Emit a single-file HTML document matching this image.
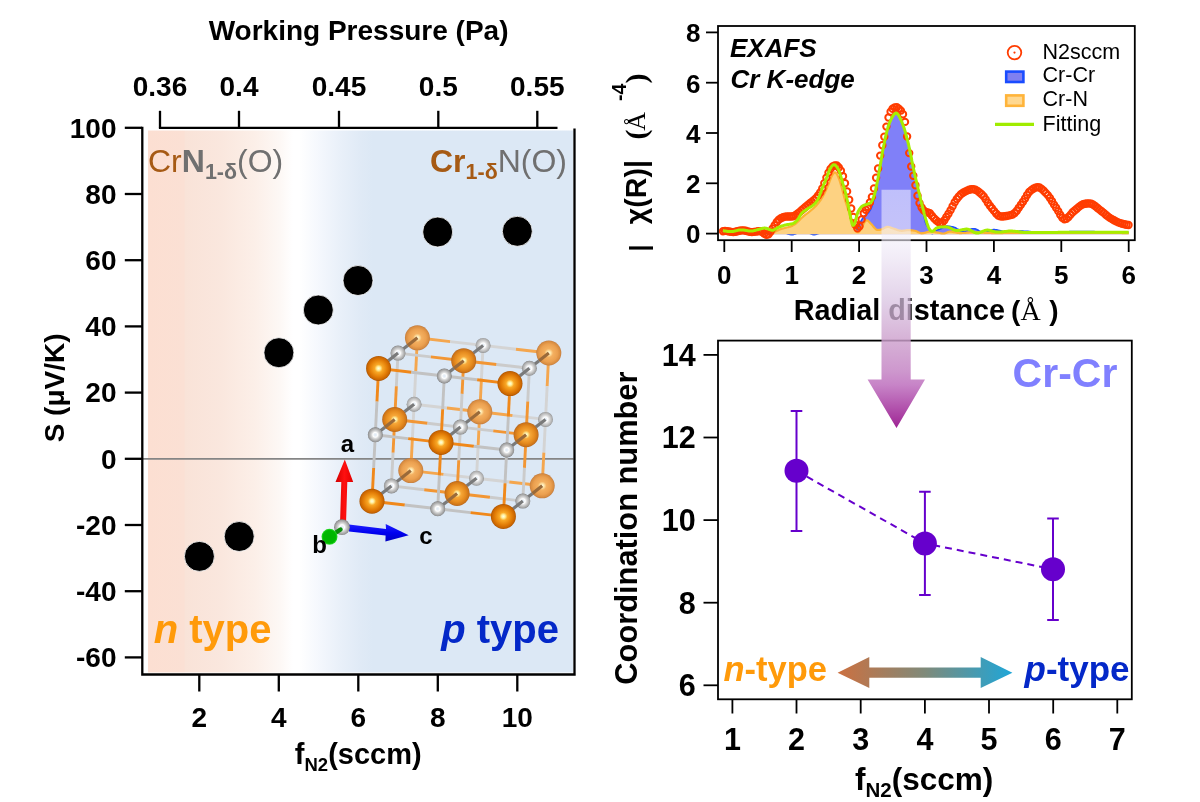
<!DOCTYPE html>
<html><head><meta charset="utf-8"><title>CrN figure</title>
<style>html,body{margin:0;padding:0;background:#fff;} svg{display:block;}</style></head>
<body><svg width="1200" height="802" viewBox="0 0 1200 802">
<defs>
<linearGradient id="bgL" gradientUnits="userSpaceOnUse" x1="148" y1="0" x2="573" y2="0"><stop offset="0.0000" stop-color="#fcdfd2"/><stop offset="0.0847" stop-color="#fbe0d4"/><stop offset="0.0882" stop-color="#f9e3d8"/><stop offset="0.1741" stop-color="#fae7de"/><stop offset="0.2518" stop-color="#fcefe8"/><stop offset="0.3106" stop-color="#fdf8f5"/><stop offset="0.3412" stop-color="#ffffff"/><stop offset="0.3553" stop-color="#ffffff"/><stop offset="0.4000" stop-color="#f5f8fd"/><stop offset="0.4518" stop-color="#e9f0f9"/><stop offset="0.4988" stop-color="#e0eaf6"/><stop offset="0.5294" stop-color="#dce8f5"/><stop offset="1.0000" stop-color="#dce8f5"/></linearGradient>
<radialGradient id="cr0" cx="0.5" cy="0.5" r="0.5"><stop offset="0" stop-color="#fffde6"/><stop offset="0.14" stop-color="#fff2a0"/><stop offset="0.32" stop-color="#f9a826"/><stop offset="0.7" stop-color="#e27c06"/><stop offset="0.92" stop-color="#c86400"/><stop offset="1" stop-color="#a85200"/></radialGradient>
<radialGradient id="cr1" cx="0.5" cy="0.5" r="0.5"><stop offset="0" stop-color="#fffde6"/><stop offset="0.14" stop-color="#fff0a0"/><stop offset="0.32" stop-color="#f7a838"/><stop offset="0.7" stop-color="#e58a1e"/><stop offset="0.92" stop-color="#cd7418"/><stop offset="1" stop-color="#b06420"/></radialGradient>
<radialGradient id="cr2" cx="0.5" cy="0.5" r="0.5"><stop offset="0" stop-color="#fffde6"/><stop offset="0.14" stop-color="#ffeab0"/><stop offset="0.34" stop-color="#f4b060"/><stop offset="0.7" stop-color="#eba050"/><stop offset="0.92" stop-color="#d88c40"/><stop offset="1" stop-color="#bf7a40"/></radialGradient>
<radialGradient id="n0" cx="0.5" cy="0.5" r="0.5"><stop offset="0" stop-color="#dfeaf6"/><stop offset="0.2" stop-color="#eef3f8"/><stop offset="0.32" stop-color="#ffffff"/><stop offset="0.48" stop-color="#dcdcdc"/><stop offset="0.75" stop-color="#b2b2b2"/><stop offset="0.9" stop-color="#9c9c9c"/><stop offset="1" stop-color="#767676"/></radialGradient>
<radialGradient id="n1" cx="0.5" cy="0.5" r="0.5"><stop offset="0" stop-color="#dfeaf6"/><stop offset="0.2" stop-color="#eef3f8"/><stop offset="0.32" stop-color="#ffffff"/><stop offset="0.48" stop-color="#dfdfdf"/><stop offset="0.75" stop-color="#b8b8b8"/><stop offset="0.9" stop-color="#a4a4a4"/><stop offset="1" stop-color="#808080"/></radialGradient>
<radialGradient id="n2" cx="0.5" cy="0.5" r="0.5"><stop offset="0" stop-color="#dfeaf6"/><stop offset="0.2" stop-color="#eef3f8"/><stop offset="0.32" stop-color="#ffffff"/><stop offset="0.48" stop-color="#e2e2e2"/><stop offset="0.75" stop-color="#c0c0c0"/><stop offset="0.9" stop-color="#adadad"/><stop offset="1" stop-color="#8c8c8c"/></radialGradient>
<radialGradient id="gball" cx="0.5" cy="0.5" r="0.5"><stop offset="0" stop-color="#00b400"/><stop offset="0.8" stop-color="#00b800"/><stop offset="1" stop-color="#30e030"/></radialGradient>
<linearGradient id="redg" x1="0" y1="0" x2="1" y2="0"><stop offset="0" stop-color="#d00000"/><stop offset="0.5" stop-color="#ff1010"/><stop offset="1" stop-color="#e00000"/></linearGradient>
<linearGradient id="blueg" x1="0" y1="0" x2="0" y2="1"><stop offset="0" stop-color="#2020ff"/><stop offset="0.5" stop-color="#0000f0"/><stop offset="1" stop-color="#0000c0"/></linearGradient>
<linearGradient id="dblg" gradientUnits="userSpaceOnUse" x1="837.6" y1="0" x2="1012.4" y2="0"><stop offset="0" stop-color="#cc7040"/><stop offset="0.5" stop-color="#7f8a7a"/><stop offset="1" stop-color="#1ea6d8"/></linearGradient>
<linearGradient id="bigarrow" gradientUnits="userSpaceOnUse" x1="0" y1="189.7" x2="0" y2="428">
<stop offset="0" stop-color="#ffffff" stop-opacity="0.5"/><stop offset="0.23" stop-color="#f0ebf8" stop-opacity="0.62"/>
<stop offset="0.46" stop-color="#d8c2e1" stop-opacity="0.72"/><stop offset="0.63" stop-color="#cda0cd" stop-opacity="0.82"/>
<stop offset="0.76" stop-color="#c88cc8" stop-opacity="0.9"/><stop offset="0.82" stop-color="#c47dc4" stop-opacity="0.95"/>
<stop offset="1" stop-color="#9e2494" stop-opacity="1"/></linearGradient>
</defs>
<rect width="1200" height="802" fill="#fff"/>
<rect x="148" y="130.5" width="425" height="542" fill="url(#bgL)"/>
<line x1="143" y1="458.9" x2="573.5" y2="458.9" stroke="#858585" stroke-width="1.6"/>
<g stroke="#000" stroke-width="2.3" fill="none" stroke-linecap="butt">
<path d="M142.3 126.7 V675.6 M141.2 674.5 H575.7 M574.5 128.6 V675.6 M158.9 127.8 H557.5"/>
<path d="M124.8 127.8 H142"/>
<path d="M124.8 194 H142"/>
<path d="M124.8 260.2 H142"/>
<path d="M124.8 326.4 H142"/>
<path d="M124.8 392.6 H142"/>
<path d="M124.8 458.8 H142"/>
<path d="M124.8 525 H142"/>
<path d="M124.8 591.2 H142"/>
<path d="M124.8 657.4 H142"/>
<path d="M160 110.8 V127.8"/>
<path d="M239 110.8 V127.8"/>
<path d="M339 110.8 V127.8"/>
<path d="M438.3 110.8 V127.8"/>
<path d="M537.3 110.8 V127.8"/>
<path d="M199.3 674.5 V691.5"/>
<path d="M278.8 674.5 V691.5"/>
<path d="M358.3 674.5 V691.5"/>
<path d="M437.8 674.5 V691.5"/>
<path d="M517.3 674.5 V691.5"/>
</g>
<g font-family="'Liberation Sans', Arial, Helvetica, sans-serif" font-weight="bold" font-size="28" fill="#000">
<text x="116.5" y="137.6" text-anchor="end">100</text>
<text x="116.5" y="203.8" text-anchor="end">80</text>
<text x="116.5" y="270" text-anchor="end">60</text>
<text x="116.5" y="336.2" text-anchor="end">40</text>
<text x="116.5" y="402.4" text-anchor="end">20</text>
<text x="116.5" y="468.6" text-anchor="end">0</text>
<text x="116.5" y="534.8" text-anchor="end">-20</text>
<text x="116.5" y="601" text-anchor="end">-40</text>
<text x="116.5" y="667.2" text-anchor="end">-60</text>
<text x="160" y="95.6" text-anchor="middle">0.36</text>
<text x="239" y="95.6" text-anchor="middle">0.4</text>
<text x="339" y="95.6" text-anchor="middle">0.45</text>
<text x="438.3" y="95.6" text-anchor="middle">0.5</text>
<text x="537.3" y="95.6" text-anchor="middle">0.55</text>
<text x="199.3" y="726.5" text-anchor="middle">2</text>
<text x="278.8" y="726.5" text-anchor="middle">4</text>
<text x="358.3" y="726.5" text-anchor="middle">6</text>
<text x="437.8" y="726.5" text-anchor="middle">8</text>
<text x="517.3" y="726.5" text-anchor="middle">10</text>
</g>
<text x="358.6" y="40" text-anchor="middle" font-family="'Liberation Sans', Arial, Helvetica, sans-serif" font-weight="bold" font-size="28">Working Pressure (Pa)</text>
<text x="294.8" y="764" font-family="'Liberation Sans', Arial, Helvetica, sans-serif" font-weight="bold" font-size="29">f<tspan font-size="18.5" dy="6.6">N2</tspan><tspan dy="-6.6">(sccm)</tspan></text>
<text transform="translate(63.9 387.9) rotate(-90)" text-anchor="middle" font-family="'Liberation Sans', Arial, Helvetica, sans-serif" font-weight="bold" font-size="28">S (μV/K)</text>
<text x="148" y="171.6" font-family="'Liberation Sans', Arial, Helvetica, sans-serif" font-size="32"><tspan fill="#a65a14">Cr</tspan><tspan fill="#707070" font-weight="bold">N</tspan><tspan fill="#707070" font-weight="bold" font-size="21.5" dy="7">1-δ</tspan><tspan fill="#707070" dy="-7">(O)</tspan></text>
<text x="567" y="171.6" text-anchor="end" font-family="'Liberation Sans', Arial, Helvetica, sans-serif" font-size="32"><tspan fill="#a65a14" font-weight="bold">Cr</tspan><tspan fill="#a65a14" font-weight="bold" font-size="21.5" dy="7">1-δ</tspan><tspan fill="#707070" dy="-7">N(O)</tspan></text>
<text x="153.7" y="642.7" font-family="'Liberation Sans', Arial, Helvetica, sans-serif" font-weight="bold" font-size="40" fill="#ff9a0a"><tspan font-style="italic">n</tspan> type</text>
<text x="559" y="643" text-anchor="end" font-family="'Liberation Sans', Arial, Helvetica, sans-serif" font-weight="bold" font-size="40" fill="#0428c8"><tspan font-style="italic">p</tspan> type</text>
<circle cx="199.4" cy="556.4" r="15" fill="#000" stroke="#fff" stroke-width="0.8"/>
<circle cx="239.2" cy="536.5" r="15" fill="#000" stroke="#fff" stroke-width="0.8"/>
<circle cx="278.9" cy="352.7" r="15" fill="#000" stroke="#fff" stroke-width="0.8"/>
<circle cx="318.3" cy="310" r="15" fill="#000" stroke="#fff" stroke-width="0.8"/>
<circle cx="358" cy="280.5" r="15" fill="#000" stroke="#fff" stroke-width="0.8"/>
<circle cx="437.7" cy="232" r="15" fill="#000" stroke="#fff" stroke-width="0.8"/>
<circle cx="517.3" cy="231.3" r="15" fill="#000" stroke="#fff" stroke-width="0.8"/>
<g stroke-linecap="butt">
<line x1="417.4" y1="337.8" x2="450.25" y2="341.6" stroke="#f4a64e" stroke-width="2.9"/><line x1="450.25" y1="341.6" x2="483.1" y2="345.4" stroke="#d4d4d4" stroke-width="2.9"/>
<line x1="417.4" y1="337.8" x2="415.75" y2="371" stroke="#f4a64e" stroke-width="2.9"/><line x1="415.75" y1="371" x2="414.1" y2="404.2" stroke="#d4d4d4" stroke-width="2.9"/>
<line x1="414.1" y1="404.2" x2="446.95" y2="408" stroke="#d4d4d4" stroke-width="2.9"/><line x1="446.95" y1="408" x2="479.8" y2="411.8" stroke="#f4a64e" stroke-width="2.9"/>
<line x1="414.1" y1="404.2" x2="412.45" y2="437.4" stroke="#d4d4d4" stroke-width="2.9"/><line x1="412.45" y1="437.4" x2="410.8" y2="470.6" stroke="#f4a64e" stroke-width="2.9"/>
<line x1="410.8" y1="470.6" x2="443.65" y2="474.4" stroke="#f4a64e" stroke-width="2.9"/><line x1="443.65" y1="474.4" x2="476.5" y2="478.2" stroke="#d4d4d4" stroke-width="2.9"/>
<line x1="483.1" y1="345.4" x2="515.95" y2="349.2" stroke="#d4d4d4" stroke-width="2.9"/><line x1="515.95" y1="349.2" x2="548.8" y2="353" stroke="#f4a64e" stroke-width="2.9"/>
<line x1="483.1" y1="345.4" x2="481.45" y2="378.6" stroke="#d4d4d4" stroke-width="2.9"/><line x1="481.45" y1="378.6" x2="479.8" y2="411.8" stroke="#f4a64e" stroke-width="2.9"/>
<line x1="479.8" y1="411.8" x2="512.65" y2="415.6" stroke="#f4a64e" stroke-width="2.9"/><line x1="512.65" y1="415.6" x2="545.5" y2="419.4" stroke="#d4d4d4" stroke-width="2.9"/>
<line x1="479.8" y1="411.8" x2="478.15" y2="445" stroke="#f4a64e" stroke-width="2.9"/><line x1="478.15" y1="445" x2="476.5" y2="478.2" stroke="#d4d4d4" stroke-width="2.9"/>
<line x1="476.5" y1="478.2" x2="509.35" y2="482" stroke="#d4d4d4" stroke-width="2.9"/><line x1="509.35" y1="482" x2="542.2" y2="485.8" stroke="#f4a64e" stroke-width="2.9"/>
<line x1="548.8" y1="353" x2="547.15" y2="386.2" stroke="#f4a64e" stroke-width="2.9"/><line x1="547.15" y1="386.2" x2="545.5" y2="419.4" stroke="#d4d4d4" stroke-width="2.9"/>
<line x1="545.5" y1="419.4" x2="543.85" y2="452.6" stroke="#d4d4d4" stroke-width="2.9"/><line x1="543.85" y1="452.6" x2="542.2" y2="485.8" stroke="#f4a64e" stroke-width="2.9"/>
<circle cx="417.4" cy="337.8" r="12.5" fill="url(#cr2)"/>
<circle cx="414.1" cy="404.2" r="7.5" fill="url(#n2)"/>
<circle cx="410.8" cy="470.6" r="12.5" fill="url(#cr2)"/>
<circle cx="483.1" cy="345.4" r="7.5" fill="url(#n2)"/>
<circle cx="479.8" cy="411.8" r="12.5" fill="url(#cr2)"/>
<circle cx="476.5" cy="478.2" r="7.5" fill="url(#n2)"/>
<circle cx="548.8" cy="353" r="12.5" fill="url(#cr2)"/>
<circle cx="545.5" cy="419.4" r="7.5" fill="url(#n2)"/>
<circle cx="542.2" cy="485.8" r="12.5" fill="url(#cr2)"/>
<line x1="398" y1="353.1" x2="407.7" y2="345.45" stroke="#7a7a7a" stroke-width="3.2"/><line x1="407.7" y1="345.45" x2="417.4" y2="337.8" stroke="#9a6a3a" stroke-width="3.2"/>
<line x1="394.7" y1="419.5" x2="404.4" y2="411.85" stroke="#9a6a3a" stroke-width="3.2"/><line x1="404.4" y1="411.85" x2="414.1" y2="404.2" stroke="#7a7a7a" stroke-width="3.2"/>
<line x1="391.4" y1="485.9" x2="401.1" y2="478.25" stroke="#7a7a7a" stroke-width="3.2"/><line x1="401.1" y1="478.25" x2="410.8" y2="470.6" stroke="#9a6a3a" stroke-width="3.2"/>
<line x1="463.7" y1="360.7" x2="473.4" y2="353.05" stroke="#9a6a3a" stroke-width="3.2"/><line x1="473.4" y1="353.05" x2="483.1" y2="345.4" stroke="#7a7a7a" stroke-width="3.2"/>
<line x1="460.4" y1="427.1" x2="470.1" y2="419.45" stroke="#7a7a7a" stroke-width="3.2"/><line x1="470.1" y1="419.45" x2="479.8" y2="411.8" stroke="#9a6a3a" stroke-width="3.2"/>
<line x1="457.1" y1="493.5" x2="466.8" y2="485.85" stroke="#9a6a3a" stroke-width="3.2"/><line x1="466.8" y1="485.85" x2="476.5" y2="478.2" stroke="#7a7a7a" stroke-width="3.2"/>
<line x1="529.4" y1="368.3" x2="539.1" y2="360.65" stroke="#7a7a7a" stroke-width="3.2"/><line x1="539.1" y1="360.65" x2="548.8" y2="353" stroke="#9a6a3a" stroke-width="3.2"/>
<line x1="526.1" y1="434.7" x2="535.8" y2="427.05" stroke="#9a6a3a" stroke-width="3.2"/><line x1="535.8" y1="427.05" x2="545.5" y2="419.4" stroke="#7a7a7a" stroke-width="3.2"/>
<line x1="522.8" y1="501.1" x2="532.5" y2="493.45" stroke="#7a7a7a" stroke-width="3.2"/><line x1="532.5" y1="493.45" x2="542.2" y2="485.8" stroke="#9a6a3a" stroke-width="3.2"/>
<line x1="398" y1="353.1" x2="430.85" y2="356.9" stroke="#cbcbcb" stroke-width="2.9"/><line x1="430.85" y1="356.9" x2="463.7" y2="360.7" stroke="#f29634" stroke-width="2.9"/>
<line x1="398" y1="353.1" x2="396.35" y2="386.3" stroke="#cbcbcb" stroke-width="2.9"/><line x1="396.35" y1="386.3" x2="394.7" y2="419.5" stroke="#f29634" stroke-width="2.9"/>
<line x1="394.7" y1="419.5" x2="427.55" y2="423.3" stroke="#f29634" stroke-width="2.9"/><line x1="427.55" y1="423.3" x2="460.4" y2="427.1" stroke="#cbcbcb" stroke-width="2.9"/>
<line x1="394.7" y1="419.5" x2="393.05" y2="452.7" stroke="#f29634" stroke-width="2.9"/><line x1="393.05" y1="452.7" x2="391.4" y2="485.9" stroke="#cbcbcb" stroke-width="2.9"/>
<line x1="391.4" y1="485.9" x2="424.25" y2="489.7" stroke="#cbcbcb" stroke-width="2.9"/><line x1="424.25" y1="489.7" x2="457.1" y2="493.5" stroke="#f29634" stroke-width="2.9"/>
<line x1="463.7" y1="360.7" x2="496.55" y2="364.5" stroke="#f29634" stroke-width="2.9"/><line x1="496.55" y1="364.5" x2="529.4" y2="368.3" stroke="#cbcbcb" stroke-width="2.9"/>
<line x1="463.7" y1="360.7" x2="462.05" y2="393.9" stroke="#f29634" stroke-width="2.9"/><line x1="462.05" y1="393.9" x2="460.4" y2="427.1" stroke="#cbcbcb" stroke-width="2.9"/>
<line x1="460.4" y1="427.1" x2="493.25" y2="430.9" stroke="#cbcbcb" stroke-width="2.9"/><line x1="493.25" y1="430.9" x2="526.1" y2="434.7" stroke="#f29634" stroke-width="2.9"/>
<line x1="460.4" y1="427.1" x2="458.75" y2="460.3" stroke="#cbcbcb" stroke-width="2.9"/><line x1="458.75" y1="460.3" x2="457.1" y2="493.5" stroke="#f29634" stroke-width="2.9"/>
<line x1="457.1" y1="493.5" x2="489.95" y2="497.3" stroke="#f29634" stroke-width="2.9"/><line x1="489.95" y1="497.3" x2="522.8" y2="501.1" stroke="#cbcbcb" stroke-width="2.9"/>
<line x1="529.4" y1="368.3" x2="527.75" y2="401.5" stroke="#cbcbcb" stroke-width="2.9"/><line x1="527.75" y1="401.5" x2="526.1" y2="434.7" stroke="#f29634" stroke-width="2.9"/>
<line x1="526.1" y1="434.7" x2="524.45" y2="467.9" stroke="#f29634" stroke-width="2.9"/><line x1="524.45" y1="467.9" x2="522.8" y2="501.1" stroke="#cbcbcb" stroke-width="2.9"/>
<circle cx="398" cy="353.1" r="7.5" fill="url(#n1)"/>
<circle cx="394.7" cy="419.5" r="12.5" fill="url(#cr1)"/>
<circle cx="391.4" cy="485.9" r="7.5" fill="url(#n1)"/>
<circle cx="463.7" cy="360.7" r="12.5" fill="url(#cr1)"/>
<circle cx="460.4" cy="427.1" r="7.5" fill="url(#n1)"/>
<circle cx="457.1" cy="493.5" r="12.5" fill="url(#cr1)"/>
<circle cx="529.4" cy="368.3" r="7.5" fill="url(#n1)"/>
<circle cx="526.1" cy="434.7" r="12.5" fill="url(#cr1)"/>
<circle cx="522.8" cy="501.1" r="7.5" fill="url(#n1)"/>
<line x1="378.6" y1="368.4" x2="388.3" y2="360.75" stroke="#9a6a3a" stroke-width="3.2"/><line x1="388.3" y1="360.75" x2="398" y2="353.1" stroke="#7a7a7a" stroke-width="3.2"/>
<line x1="375.3" y1="434.8" x2="385" y2="427.15" stroke="#7a7a7a" stroke-width="3.2"/><line x1="385" y1="427.15" x2="394.7" y2="419.5" stroke="#9a6a3a" stroke-width="3.2"/>
<line x1="372" y1="501.2" x2="381.7" y2="493.55" stroke="#9a6a3a" stroke-width="3.2"/><line x1="381.7" y1="493.55" x2="391.4" y2="485.9" stroke="#7a7a7a" stroke-width="3.2"/>
<line x1="444.3" y1="376" x2="454" y2="368.35" stroke="#7a7a7a" stroke-width="3.2"/><line x1="454" y1="368.35" x2="463.7" y2="360.7" stroke="#9a6a3a" stroke-width="3.2"/>
<line x1="441" y1="442.4" x2="450.7" y2="434.75" stroke="#9a6a3a" stroke-width="3.2"/><line x1="450.7" y1="434.75" x2="460.4" y2="427.1" stroke="#7a7a7a" stroke-width="3.2"/>
<line x1="437.7" y1="508.8" x2="447.4" y2="501.15" stroke="#7a7a7a" stroke-width="3.2"/><line x1="447.4" y1="501.15" x2="457.1" y2="493.5" stroke="#9a6a3a" stroke-width="3.2"/>
<line x1="510" y1="383.6" x2="519.7" y2="375.95" stroke="#9a6a3a" stroke-width="3.2"/><line x1="519.7" y1="375.95" x2="529.4" y2="368.3" stroke="#7a7a7a" stroke-width="3.2"/>
<line x1="506.7" y1="450" x2="516.4" y2="442.35" stroke="#7a7a7a" stroke-width="3.2"/><line x1="516.4" y1="442.35" x2="526.1" y2="434.7" stroke="#9a6a3a" stroke-width="3.2"/>
<line x1="503.4" y1="516.4" x2="513.1" y2="508.75" stroke="#9a6a3a" stroke-width="3.2"/><line x1="513.1" y1="508.75" x2="522.8" y2="501.1" stroke="#7a7a7a" stroke-width="3.2"/>
<line x1="378.6" y1="368.4" x2="411.45" y2="372.2" stroke="#f0881a" stroke-width="2.9"/><line x1="411.45" y1="372.2" x2="444.3" y2="376" stroke="#c2c2c2" stroke-width="2.9"/>
<line x1="378.6" y1="368.4" x2="376.95" y2="401.6" stroke="#f0881a" stroke-width="2.9"/><line x1="376.95" y1="401.6" x2="375.3" y2="434.8" stroke="#c2c2c2" stroke-width="2.9"/>
<line x1="375.3" y1="434.8" x2="408.15" y2="438.6" stroke="#c2c2c2" stroke-width="2.9"/><line x1="408.15" y1="438.6" x2="441" y2="442.4" stroke="#f0881a" stroke-width="2.9"/>
<line x1="375.3" y1="434.8" x2="373.65" y2="468" stroke="#c2c2c2" stroke-width="2.9"/><line x1="373.65" y1="468" x2="372" y2="501.2" stroke="#f0881a" stroke-width="2.9"/>
<line x1="372" y1="501.2" x2="404.85" y2="505" stroke="#f0881a" stroke-width="2.9"/><line x1="404.85" y1="505" x2="437.7" y2="508.8" stroke="#c2c2c2" stroke-width="2.9"/>
<line x1="444.3" y1="376" x2="477.15" y2="379.8" stroke="#c2c2c2" stroke-width="2.9"/><line x1="477.15" y1="379.8" x2="510" y2="383.6" stroke="#f0881a" stroke-width="2.9"/>
<line x1="444.3" y1="376" x2="442.65" y2="409.2" stroke="#c2c2c2" stroke-width="2.9"/><line x1="442.65" y1="409.2" x2="441" y2="442.4" stroke="#f0881a" stroke-width="2.9"/>
<line x1="441" y1="442.4" x2="473.85" y2="446.2" stroke="#f0881a" stroke-width="2.9"/><line x1="473.85" y1="446.2" x2="506.7" y2="450" stroke="#c2c2c2" stroke-width="2.9"/>
<line x1="441" y1="442.4" x2="439.35" y2="475.6" stroke="#f0881a" stroke-width="2.9"/><line x1="439.35" y1="475.6" x2="437.7" y2="508.8" stroke="#c2c2c2" stroke-width="2.9"/>
<line x1="437.7" y1="508.8" x2="470.55" y2="512.6" stroke="#c2c2c2" stroke-width="2.9"/><line x1="470.55" y1="512.6" x2="503.4" y2="516.4" stroke="#f0881a" stroke-width="2.9"/>
<line x1="510" y1="383.6" x2="508.35" y2="416.8" stroke="#f0881a" stroke-width="2.9"/><line x1="508.35" y1="416.8" x2="506.7" y2="450" stroke="#c2c2c2" stroke-width="2.9"/>
<line x1="506.7" y1="450" x2="505.05" y2="483.2" stroke="#c2c2c2" stroke-width="2.9"/><line x1="505.05" y1="483.2" x2="503.4" y2="516.4" stroke="#f0881a" stroke-width="2.9"/>
<circle cx="378.6" cy="368.4" r="12.5" fill="url(#cr0)"/>
<circle cx="375.3" cy="434.8" r="7.5" fill="url(#n0)"/>
<circle cx="372" cy="501.2" r="12.5" fill="url(#cr0)"/>
<circle cx="444.3" cy="376" r="7.5" fill="url(#n0)"/>
<circle cx="441" cy="442.4" r="12.5" fill="url(#cr0)"/>
<circle cx="437.7" cy="508.8" r="7.5" fill="url(#n0)"/>
<circle cx="510" cy="383.6" r="12.5" fill="url(#cr0)"/>
<circle cx="506.7" cy="450" r="7.5" fill="url(#n0)"/>
<circle cx="503.4" cy="516.4" r="12.5" fill="url(#cr0)"/>
</g>
<g>
<path d="M339.9 527 L341.3 482 L335.5 482 L344.8 459.5 L353.2 482 L347.3 482 L345.9 527 Z" fill="url(#redg)"/>
<path d="M349 524.6 L386 529.1 L385.7 524.1 L408.7 535.3 L385.4 541.5 L385.6 535.6 L349 531.4 Z" fill="url(#blueg)"/>
<circle cx="342" cy="527.2" r="7.9" fill="url(#n0)"/>
<line x1="340.5" y1="529.5" x2="330" y2="536.5" stroke="#0a8a0a" stroke-width="4.5" stroke-linecap="round"/>
<circle cx="329.5" cy="536.8" r="8" fill="url(#gball)"/>
<g font-family="'Liberation Sans', Arial, Helvetica, sans-serif" font-weight="bold" font-size="24" fill="#000" text-anchor="middle">
<text x="347.5" y="451.8">a</text><text x="319.6" y="553.3">b</text><text x="426" y="544.3">c</text>
</g></g>
<path d="M723.0 233.1 L724.0 233.1 L725.0 233.1 L726.0 233.1 L727.0 233.1 L728.0 233.1 L729.1 233.1 L730.1 233.1 L731.1 233.1 L732.1 233.1 L733.1 233.1 L734.1 233.1 L735.2 233.1 L736.2 233.1 L737.2 233.1 L738.2 233.1 L739.2 233.1 L740.2 233.1 L741.3 233.1 L742.3 233.1 L743.3 233.1 L744.3 233.1 L745.3 233.1 L746.3 233.1 L747.4 233.1 L748.4 233.1 L749.4 233.1 L750.4 233.1 L751.4 233.1 L752.4 233.1 L753.5 233.1 L754.5 233.1 L755.5 233.1 L756.5 233.1 L757.5 233.1 L758.5 233.1 L759.6 233.1 L760.6 233.1 L761.6 233.1 L762.6 233.1 L763.6 233.1 L764.6 233.1 L765.7 233.1 L766.7 233.1 L767.7 233.1 L768.7 233.1 L769.7 233.1 L770.7 233.1 L771.8 233.1 L772.8 233.1 L773.8 233.1 L774.8 233.1 L775.8 233.1 L776.8 233.1 L777.9 233.1 L778.9 233.1 L779.9 233.1 L780.9 233.1 L781.9 233.1 L782.9 233.1 L784.0 233.1 L785.0 233.1 L786.0 233.3 L787.0 233.5 L788.0 233.9 L789.1 234.2 L790.1 234.6 L791.1 234.8 L792.1 234.8 L793.1 234.6 L794.1 234.3 L795.2 233.9 L796.2 233.6 L797.2 233.3 L798.2 233.1 L799.2 233.1 L800.2 233.1 L801.3 233.1 L802.3 233.1 L803.3 233.1 L804.3 233.1 L805.3 233.1 L806.3 233.1 L807.4 233.1 L808.4 233.1 L809.4 233.3 L810.4 233.6 L811.4 234.1 L812.4 234.5 L813.5 234.7 L814.5 234.7 L815.5 234.5 L816.5 234.2 L817.5 233.8 L818.5 233.4 L819.6 233.2 L820.6 233.1 L821.6 233.1 L822.6 233.1 L823.6 233.1 L824.6 233.1 L825.7 233.1 L826.7 233.1 L827.7 233.1 L828.7 233.1 L829.7 233.1 L830.7 233.1 L831.8 233.1 L832.8 233.1 L833.8 233.1 L834.8 233.1 L835.8 233.1 L836.8 233.1 L837.9 233.1 L838.9 233.1 L839.9 233.1 L840.9 233.1 L841.9 233.1 L842.9 233.1 L844.0 233.1 L845.0 233.1 L846.0 233.1 L847.0 233.1 L848.0 233.1 L849.0 233.1 L850.1 233.1 L851.1 233.1 L852.1 233.1 L853.1 232.8 L854.1 232.3 L855.2 231.5 L856.2 230.4 L857.2 228.7 L858.2 226.7 L859.2 224.6 L860.2 222.6 L861.3 220.6 L862.3 218.9 L863.3 217.5 L864.3 216.4 L865.3 215.4 L866.3 214.5 L867.4 213.6 L868.4 212.6 L869.4 211.4 L870.4 209.8 L871.4 207.6 L872.4 204.7 L873.5 201.2 L874.5 197.1 L875.5 192.1 L876.5 186.6 L877.5 180.8 L878.5 175.1 L879.6 169.2 L880.6 163.3 L881.6 157.5 L882.6 152.0 L883.6 146.9 L884.6 141.9 L885.7 137.1 L886.7 132.6 L887.7 128.5 L888.7 125.1 L889.7 122.4 L890.7 120.0 L891.8 117.8 L892.8 115.9 L893.8 114.3 L894.8 113.2 L895.8 112.7 L896.8 112.8 L897.9 113.8 L898.9 115.4 L899.9 117.5 L900.9 119.8 L901.9 122.2 L902.9 124.8 L904.0 127.6 L905.0 130.8 L906.0 134.3 L907.0 138.1 L908.0 142.1 L909.0 146.4 L910.1 151.2 L911.1 156.3 L912.1 161.5 L913.1 166.6 L914.1 171.4 L915.1 176.0 L916.2 180.5 L917.2 184.8 L918.2 189.1 L919.2 193.3 L920.2 197.3 L921.2 201.5 L922.3 206.2 L923.3 211.9 L924.3 217.7 L925.3 222.1 L926.3 224.6 L927.4 226.3 L928.4 227.9 L929.4 229.6 L930.4 231.7 L931.4 233.3 L932.4 233.7 L933.5 233.0 L934.5 232.0 L935.5 231.0 L936.5 230.4 L937.5 229.9 L938.5 229.5 L939.6 229.2 L940.6 228.8 L941.6 228.4 L942.6 227.9 L943.6 227.3 L944.6 226.7 L945.7 226.3 L946.7 226.1 L947.7 226.1 L948.7 226.2 L949.7 226.3 L950.7 226.5 L951.8 226.7 L952.8 226.9 L953.8 227.2 L954.8 227.5 L955.8 228.0 L956.8 228.6 L957.9 229.2 L958.9 229.8 L959.9 230.4 L960.9 230.9 L961.9 231.3 L962.9 231.5 L964.0 231.5 L965.0 231.4 L966.0 231.1 L967.0 230.8 L968.0 230.3 L969.0 229.9 L970.1 229.5 L971.1 229.1 L972.1 228.8 L973.1 228.7 L974.1 228.7 L975.1 228.9 L976.2 229.2 L977.2 229.7 L978.2 230.3 L979.2 230.9 L980.2 231.4 L981.2 231.9 L982.3 232.3 L983.3 232.5 L984.3 232.5 L985.3 232.4 L986.3 232.1 L987.3 231.7 L988.4 231.3 L989.4 230.9 L990.4 230.4 L991.4 230.1 L992.4 229.8 L993.5 229.6 L994.5 229.6 L995.5 229.7 L996.5 229.8 L997.5 230.0 L998.5 230.3 L999.6 230.5 L1000.6 230.8 L1001.6 231.1 L1002.6 231.4 L1003.6 231.6 L1004.6 231.8 L1005.7 232.0 L1006.7 232.0 L1007.7 232.1 L1008.7 232.1 L1009.7 232.0 L1010.7 231.9 L1011.8 231.8 L1012.8 231.7 L1013.8 231.6 L1014.8 231.5 L1015.8 231.4 L1016.8 231.3 L1017.9 231.2 L1018.9 231.2 L1019.9 231.1 L1020.9 231.1 L1021.9 231.1 L1022.9 231.1 L1024.0 231.2 L1025.0 231.2 L1026.0 231.3 L1027.0 231.4 L1028.0 231.4 L1029.0 231.5 L1030.1 231.6 L1031.1 231.7 L1032.1 231.8 L1033.1 231.9 L1034.1 232.0 L1035.1 232.1 L1036.2 232.2 L1037.2 232.2 L1038.2 232.3 L1039.2 232.3 L1040.2 232.3 L1041.2 232.3 L1042.3 232.3 L1043.3 232.3 L1044.3 232.3 L1045.3 232.3 L1046.3 232.3 L1047.3 232.3 L1048.4 232.3 L1049.4 232.2 L1050.4 232.2 L1051.4 232.2 L1052.4 232.1 L1053.4 232.1 L1054.5 232.1 L1055.5 232.0 L1056.5 232.0 L1057.5 232.0 L1058.5 231.9 L1059.5 231.9 L1060.6 231.9 L1061.6 231.8 L1062.6 231.8 L1063.6 231.8 L1064.6 231.8 L1065.7 231.7 L1066.7 231.7 L1067.7 231.7 L1068.7 231.7 L1069.7 231.6 L1070.7 231.6 L1071.8 231.6 L1072.8 231.6 L1073.8 231.6 L1074.8 231.6 L1075.8 231.6 L1076.8 231.6 L1077.9 231.6 L1078.9 231.6 L1079.9 231.6 L1080.9 231.6 L1081.9 231.6 L1082.9 231.6 L1084.0 231.6 L1085.0 231.6 L1086.0 231.6 L1087.0 231.6 L1088.0 231.6 L1089.0 231.6 L1090.1 231.6 L1091.1 231.6 L1092.1 231.6 L1093.1 231.6 L1094.1 231.6 L1095.1 231.7 L1096.2 231.7 L1097.2 231.7 L1098.2 231.7 L1099.2 231.7 L1100.2 231.7 L1101.2 231.7 L1102.3 231.7 L1103.3 231.7 L1104.3 231.8 L1105.3 231.8 L1106.3 231.8 L1107.3 231.8 L1108.4 231.8 L1109.4 231.8 L1110.4 231.9 L1111.4 231.9 L1112.4 231.9 L1113.4 231.9 L1114.5 231.9 L1115.5 232.0 L1116.5 232.0 L1117.5 232.0 L1118.5 232.0 L1119.5 232.1 L1120.6 232.1 L1121.6 232.1 L1122.6 232.1 L1123.6 232.2 L1124.6 232.2 L1125.6 232.2 L1126.7 232.3 L1127.7 232.3 L1128.7 232.3 L1128.7 234.2 L723.0 234.2 Z" fill="#8080f8"/>
<path d="M723.0 233.1 L724.0 233.1 L725.0 233.1 L726.0 233.1 L727.0 233.1 L728.0 233.1 L729.1 233.1 L730.1 233.1 L731.1 233.1 L732.1 233.1 L733.1 233.1 L734.1 233.1 L735.2 233.1 L736.2 233.1 L737.2 233.1 L738.2 233.1 L739.2 233.1 L740.2 233.1 L741.3 233.1 L742.3 233.1 L743.3 233.1 L744.3 233.1 L745.3 233.1 L746.3 233.1 L747.4 233.1 L748.4 233.1 L749.4 233.1 L750.4 233.1 L751.4 233.1 L752.4 233.1 L753.5 233.1 L754.5 233.1 L755.5 233.1 L756.5 233.1 L757.5 233.1 L758.5 233.1 L759.6 233.1 L760.6 233.1 L761.6 233.1 L762.6 233.1 L763.6 233.1 L764.6 233.1 L765.7 233.1 L766.7 233.1 L767.7 233.1 L768.7 233.1 L769.7 233.1 L770.7 233.1 L771.8 233.1 L772.8 233.1 L773.8 233.1 L774.8 233.1 L775.8 233.1 L776.8 233.1 L777.9 233.1 L778.9 233.1 L779.9 233.1 L780.9 233.1 L781.9 233.1 L782.9 233.1 L784.0 233.1 L785.0 233.1 L786.0 233.3 L787.0 233.5 L788.0 233.9 L789.1 234.2 L790.1 234.6 L791.1 234.8 L792.1 234.8 L793.1 234.6 L794.1 234.3 L795.2 233.9 L796.2 233.6 L797.2 233.3 L798.2 233.1 L799.2 233.1 L800.2 233.1 L801.3 233.1 L802.3 233.1 L803.3 233.1 L804.3 233.1 L805.3 233.1 L806.3 233.1 L807.4 233.1 L808.4 233.1 L809.4 233.3 L810.4 233.6 L811.4 234.1 L812.4 234.5 L813.5 234.7 L814.5 234.7 L815.5 234.5 L816.5 234.2 L817.5 233.8 L818.5 233.4 L819.6 233.2 L820.6 233.1 L821.6 233.1 L822.6 233.1 L823.6 233.1 L824.6 233.1 L825.7 233.1 L826.7 233.1 L827.7 233.1 L828.7 233.1 L829.7 233.1 L830.7 233.1 L831.8 233.1 L832.8 233.1 L833.8 233.1 L834.8 233.1 L835.8 233.1 L836.8 233.1 L837.9 233.1 L838.9 233.1 L839.9 233.1 L840.9 233.1 L841.9 233.1 L842.9 233.1 L844.0 233.1 L845.0 233.1 L846.0 233.1 L847.0 233.1 L848.0 233.1 L849.0 233.1 L850.1 233.1 L851.1 233.1 L852.1 233.1 L853.1 232.8 L854.1 232.3 L855.2 231.5 L856.2 230.4 L857.2 228.7 L858.2 226.7 L859.2 224.6 L860.2 222.6 L861.3 220.6 L862.3 218.9 L863.3 217.5 L864.3 216.4 L865.3 215.4 L866.3 214.5 L867.4 213.6 L868.4 212.6 L869.4 211.4 L870.4 209.8 L871.4 207.6 L872.4 204.7 L873.5 201.2 L874.5 197.1 L875.5 192.1 L876.5 186.6 L877.5 180.8 L878.5 175.1 L879.6 169.2 L880.6 163.3 L881.6 157.5 L882.6 152.0 L883.6 146.9 L884.6 141.9 L885.7 137.1 L886.7 132.6 L887.7 128.5 L888.7 125.1 L889.7 122.4 L890.7 120.0 L891.8 117.8 L892.8 115.9 L893.8 114.3 L894.8 113.2 L895.8 112.7 L896.8 112.8 L897.9 113.8 L898.9 115.4 L899.9 117.5 L900.9 119.8 L901.9 122.2 L902.9 124.8 L904.0 127.6 L905.0 130.8 L906.0 134.3 L907.0 138.1 L908.0 142.1 L909.0 146.4 L910.1 151.2 L911.1 156.3 L912.1 161.5 L913.1 166.6 L914.1 171.4 L915.1 176.0 L916.2 180.5 L917.2 184.8 L918.2 189.1 L919.2 193.3 L920.2 197.3 L921.2 201.5 L922.3 206.2 L923.3 211.9 L924.3 217.7 L925.3 222.1 L926.3 224.6 L927.4 226.3 L928.4 227.9 L929.4 229.6 L930.4 231.7 L931.4 233.3 L932.4 233.7 L933.5 233.0 L934.5 232.0 L935.5 231.0 L936.5 230.4 L937.5 229.9 L938.5 229.5 L939.6 229.2 L940.6 228.8 L941.6 228.4 L942.6 227.9 L943.6 227.3 L944.6 226.7 L945.7 226.3 L946.7 226.1 L947.7 226.1 L948.7 226.2 L949.7 226.3 L950.7 226.5 L951.8 226.7 L952.8 226.9 L953.8 227.2 L954.8 227.5 L955.8 228.0 L956.8 228.6 L957.9 229.2 L958.9 229.8 L959.9 230.4 L960.9 230.9 L961.9 231.3 L962.9 231.5 L964.0 231.5 L965.0 231.4 L966.0 231.1 L967.0 230.8 L968.0 230.3 L969.0 229.9 L970.1 229.5 L971.1 229.1 L972.1 228.8 L973.1 228.7 L974.1 228.7 L975.1 228.9 L976.2 229.2 L977.2 229.7 L978.2 230.3 L979.2 230.9 L980.2 231.4 L981.2 231.9 L982.3 232.3 L983.3 232.5 L984.3 232.5 L985.3 232.4 L986.3 232.1 L987.3 231.7 L988.4 231.3 L989.4 230.9 L990.4 230.4 L991.4 230.1 L992.4 229.8 L993.5 229.6 L994.5 229.6 L995.5 229.7 L996.5 229.8 L997.5 230.0 L998.5 230.3 L999.6 230.5 L1000.6 230.8 L1001.6 231.1 L1002.6 231.4 L1003.6 231.6 L1004.6 231.8 L1005.7 232.0 L1006.7 232.0 L1007.7 232.1 L1008.7 232.1 L1009.7 232.0 L1010.7 231.9 L1011.8 231.8 L1012.8 231.7 L1013.8 231.6 L1014.8 231.5 L1015.8 231.4 L1016.8 231.3 L1017.9 231.2 L1018.9 231.2 L1019.9 231.1 L1020.9 231.1 L1021.9 231.1 L1022.9 231.1 L1024.0 231.2 L1025.0 231.2 L1026.0 231.3 L1027.0 231.4 L1028.0 231.4 L1029.0 231.5 L1030.1 231.6 L1031.1 231.7 L1032.1 231.8 L1033.1 231.9 L1034.1 232.0 L1035.1 232.1 L1036.2 232.2 L1037.2 232.2 L1038.2 232.3 L1039.2 232.3 L1040.2 232.3 L1041.2 232.3 L1042.3 232.3 L1043.3 232.3 L1044.3 232.3 L1045.3 232.3 L1046.3 232.3 L1047.3 232.3 L1048.4 232.3 L1049.4 232.2 L1050.4 232.2 L1051.4 232.2 L1052.4 232.1 L1053.4 232.1 L1054.5 232.1 L1055.5 232.0 L1056.5 232.0 L1057.5 232.0 L1058.5 231.9 L1059.5 231.9 L1060.6 231.9 L1061.6 231.8 L1062.6 231.8 L1063.6 231.8 L1064.6 231.8 L1065.7 231.7 L1066.7 231.7 L1067.7 231.7 L1068.7 231.7 L1069.7 231.6 L1070.7 231.6 L1071.8 231.6 L1072.8 231.6 L1073.8 231.6 L1074.8 231.6 L1075.8 231.6 L1076.8 231.6 L1077.9 231.6 L1078.9 231.6 L1079.9 231.6 L1080.9 231.6 L1081.9 231.6 L1082.9 231.6 L1084.0 231.6 L1085.0 231.6 L1086.0 231.6 L1087.0 231.6 L1088.0 231.6 L1089.0 231.6 L1090.1 231.6 L1091.1 231.6 L1092.1 231.6 L1093.1 231.6 L1094.1 231.6 L1095.1 231.7 L1096.2 231.7 L1097.2 231.7 L1098.2 231.7 L1099.2 231.7 L1100.2 231.7 L1101.2 231.7 L1102.3 231.7 L1103.3 231.7 L1104.3 231.8 L1105.3 231.8 L1106.3 231.8 L1107.3 231.8 L1108.4 231.8 L1109.4 231.8 L1110.4 231.9 L1111.4 231.9 L1112.4 231.9 L1113.4 231.9 L1114.5 231.9 L1115.5 232.0 L1116.5 232.0 L1117.5 232.0 L1118.5 232.0 L1119.5 232.1 L1120.6 232.1 L1121.6 232.1 L1122.6 232.1 L1123.6 232.2 L1124.6 232.2 L1125.6 232.2 L1126.7 232.3 L1127.7 232.3 L1128.7 232.3" fill="none" stroke="#1f4fff" stroke-width="1.6"/>
<path d="M771.5 233.6 L772.4 233.1 L773.3 232.6 L774.2 232.1 L775.1 231.7 L776.0 231.2 L776.9 230.8 L777.7 230.4 L778.6 230.0 L779.5 229.6 L780.4 229.3 L781.3 228.9 L782.2 228.7 L783.1 228.4 L784.0 228.2 L784.9 228.0 L785.8 227.8 L786.7 227.5 L787.6 227.3 L788.5 227.1 L789.4 226.8 L790.3 226.6 L791.2 226.2 L792.1 225.9 L793.0 225.4 L793.9 224.9 L794.8 224.3 L795.7 223.6 L796.5 222.9 L797.4 222.2 L798.3 221.3 L799.2 220.4 L800.1 219.5 L801.0 218.5 L801.9 217.7 L802.8 216.9 L803.7 216.1 L804.6 215.4 L805.5 214.7 L806.4 214.0 L807.3 213.3 L808.2 212.6 L809.1 211.9 L810.0 211.2 L810.9 210.4 L811.8 209.7 L812.7 208.9 L813.6 208.1 L814.5 207.3 L815.3 206.4 L816.2 205.6 L817.1 204.6 L818.0 203.6 L818.9 202.4 L819.8 201.2 L820.7 199.8 L821.6 198.4 L822.5 196.9 L823.4 195.3 L824.3 193.5 L825.2 191.7 L826.1 189.7 L827.0 187.7 L827.9 185.6 L828.8 183.5 L829.7 181.2 L830.6 178.9 L831.5 176.7 L832.4 174.9 L833.3 173.6 L834.2 172.7 L835.0 172.3 L835.9 172.8 L836.8 174.0 L837.7 175.8 L838.6 177.9 L839.5 180.2 L840.4 183.0 L841.3 186.1 L842.2 189.6 L843.1 193.0 L844.0 196.3 L844.9 199.4 L845.8 202.3 L846.7 205.1 L847.6 207.9 L848.5 210.6 L849.4 213.4 L850.3 216.1 L851.2 218.9 L852.1 221.7 L853.0 224.3 L853.8 226.7 L854.7 229.0 L855.6 230.8 L856.5 231.8 L857.4 232.2 L858.3 232.1 L859.2 231.6 L860.1 230.4 L861.0 228.8 L861.9 227.1 L862.8 225.5 L863.7 223.8 L864.6 222.2 L865.5 221.0 L866.4 220.3 L867.3 220.4 L868.2 220.9 L869.1 221.7 L870.0 222.7 L870.9 223.7 L871.8 224.6 L872.6 225.6 L873.5 226.7 L874.4 227.8 L875.3 228.8 L876.2 229.5 L877.1 229.9 L878.0 230.0 L878.9 229.9 L879.8 229.8 L880.7 229.6 L881.6 229.3 L882.5 229.0 L883.4 228.6 L884.3 228.1 L885.2 227.6 L886.1 227.2 L887.0 226.9 L887.9 226.9 L888.8 227.0 L889.7 227.2 L890.6 227.5 L891.4 227.9 L892.3 228.2 L893.2 228.5 L894.1 228.8 L895.0 229.1 L895.9 229.4 L896.8 229.7 L897.7 230.1 L898.6 230.3 L899.5 230.6 L900.4 230.7 L901.3 230.8 L902.2 230.8 L903.1 230.7 L904.0 230.6 L904.9 230.5 L905.8 230.3 L906.7 230.2 L907.6 230.1 L908.5 230.1 L909.4 230.1 L910.2 230.2 L911.1 230.3 L912.0 230.4 L912.9 230.5 L913.8 230.6 L914.7 230.8 L915.6 231.0 L916.5 231.3 L917.4 231.7 L918.3 232.2 L919.2 232.6 L920.1 233.0 L921.0 233.2 L921.9 233.3 L922.8 233.2 L923.7 233.1 L924.6 232.8 L925.5 232.6 L926.4 232.3 L927.3 232.0 L928.2 231.8 L929.1 231.7 L929.9 231.6 L930.8 231.6 L931.7 231.7 L932.6 231.8 L933.5 231.9 L934.4 232.0 L935.3 232.2 L936.2 232.3 L937.1 232.5 L938.0 232.6 L938.9 232.8 L939.8 233.0 L940.7 233.2 L941.6 233.4 L942.5 233.5 L943.4 233.5 L944.3 233.4 L945.2 233.2 L946.1 232.9 L947.0 232.5 L947.9 232.1 L948.7 231.8 L949.6 231.7 L950.5 231.6 L951.4 231.7 L952.3 231.8 L953.2 231.9 L954.1 232.1 L955.0 232.3 L955.9 232.5 L956.8 232.7 L957.7 232.9 L958.6 233.0 L959.5 233.1 L960.4 233.1 L961.3 233.1 L962.2 233.0 L963.1 233.0 L964.0 232.9 L964.9 232.9 L965.8 232.8 L966.7 232.7 L967.5 232.7 L968.4 232.6 L969.3 232.5 L970.2 232.5 L971.1 232.4 L972.0 232.4 L972.9 232.4 L973.8 232.3 L974.7 232.4 L975.6 232.4 L976.5 232.4 L977.4 232.4 L978.3 232.4 L979.2 232.5 L980.1 232.5 L981.0 232.6 L981.9 232.6 L982.8 232.7 L983.7 232.7 L984.6 232.8 L985.5 232.8 L986.3 232.9 L987.2 232.9 L988.1 232.9 L989.0 233.0 L989.9 233.0 L990.8 233.0 L991.7 233.1 L992.6 233.1 L993.5 233.1 L994.4 233.1 L995.3 233.1 L996.2 233.1 L997.1 233.1 L998.0 233.1 L998.9 233.1 L999.8 233.1 L1000.7 233.1 L1001.6 233.1 L1002.5 233.1 L1003.4 233.0 L1004.3 233.0 L1005.2 233.0 L1006.0 233.0 L1006.9 233.0 L1007.8 233.0 L1008.7 233.0 L1009.6 233.0 L1010.5 233.0 L1011.4 233.0 L1012.3 233.0 L1013.2 232.9 L1014.1 232.9 L1015.0 232.9 L1015.9 232.9 L1016.8 232.9 L1017.7 232.9 L1018.6 232.9 L1019.5 232.9 L1020.4 232.9 L1021.3 232.9 L1022.2 232.9 L1023.1 232.9 L1024.0 232.9 L1024.8 232.9 L1025.7 232.8 L1026.6 232.8 L1027.5 232.8 L1028.4 232.8 L1029.3 232.8 L1030.2 232.8 L1031.1 232.8 L1032.0 232.8 L1032.9 232.8 L1033.8 232.8 L1034.7 232.8 L1035.6 232.8 L1036.5 232.8 L1037.4 232.8 L1038.3 232.8 L1039.2 232.8 L1040.1 232.8 L1041.0 232.8 L1041.9 232.8 L1042.8 232.8 L1043.6 232.8 L1044.5 232.8 L1045.4 232.8 L1046.3 232.8 L1047.2 232.8 L1048.1 232.8 L1049.0 232.8 L1049.9 232.8 L1050.8 232.8 L1051.7 232.8 L1052.6 232.8 L1053.5 232.8 L1054.4 232.9 L1055.3 232.9 L1056.2 232.9 L1057.1 232.9 L1058.0 232.9 L1058.9 232.9 L1059.8 232.9 L1060.7 232.9 L1061.6 232.9 L1062.4 232.9 L1063.3 232.9 L1064.2 232.9 L1065.1 232.9 L1066.0 232.9 L1066.9 232.9 L1067.8 232.9 L1068.7 232.9 L1069.6 232.9 L1070.5 232.9 L1071.4 232.9 L1072.3 232.9 L1073.2 232.9 L1074.1 232.9 L1075.0 232.9 L1075.9 232.9 L1076.8 232.9 L1077.7 232.9 L1078.6 232.9 L1079.5 232.9 L1080.4 232.9 L1081.2 232.9 L1082.1 232.9 L1083.0 232.9 L1083.9 232.9 L1084.8 232.9 L1085.7 232.9 L1086.6 232.9 L1087.5 232.9 L1088.4 232.9 L1089.3 232.9 L1090.2 232.9 L1091.1 232.9 L1092.0 232.9 L1092.9 232.9 L1093.8 232.9 L1094.7 232.9 L1095.6 232.9 L1096.5 232.9 L1097.4 232.9 L1098.3 232.9 L1099.2 232.9 L1100.1 232.9 L1100.9 232.9 L1101.8 232.9 L1102.7 232.9 L1103.6 233.0 L1104.5 233.0 L1105.4 233.0 L1106.3 233.0 L1107.2 233.0 L1108.1 233.0 L1109.0 233.0 L1109.9 233.0 L1110.8 233.0 L1111.7 233.0 L1112.6 233.0 L1113.5 233.0 L1114.4 233.0 L1115.3 233.0 L1116.2 233.0 L1117.1 233.0 L1118.0 233.0 L1118.9 233.0 L1119.7 233.0 L1120.6 233.0 L1121.5 233.0 L1122.4 233.1 L1123.3 233.1 L1124.2 233.1 L1125.1 233.1 L1126.0 233.1 L1126.9 233.1 L1127.8 233.1 L1128.7 233.1 L1128.7 234.2 L771.5 234.2 Z" fill="#fdd282"/>
<path d="M771.5 233.6 L772.4 233.1 L773.3 232.6 L774.2 232.1 L775.1 231.7 L776.0 231.2 L776.9 230.8 L777.7 230.4 L778.6 230.0 L779.5 229.6 L780.4 229.3 L781.3 228.9 L782.2 228.7 L783.1 228.4 L784.0 228.2 L784.9 228.0 L785.8 227.8 L786.7 227.5 L787.6 227.3 L788.5 227.1 L789.4 226.8 L790.3 226.6 L791.2 226.2 L792.1 225.9 L793.0 225.4 L793.9 224.9 L794.8 224.3 L795.7 223.6 L796.5 222.9 L797.4 222.2 L798.3 221.3 L799.2 220.4 L800.1 219.5 L801.0 218.5 L801.9 217.7 L802.8 216.9 L803.7 216.1 L804.6 215.4 L805.5 214.7 L806.4 214.0 L807.3 213.3 L808.2 212.6 L809.1 211.9 L810.0 211.2 L810.9 210.4 L811.8 209.7 L812.7 208.9 L813.6 208.1 L814.5 207.3 L815.3 206.4 L816.2 205.6 L817.1 204.6 L818.0 203.6 L818.9 202.4 L819.8 201.2 L820.7 199.8 L821.6 198.4 L822.5 196.9 L823.4 195.3 L824.3 193.5 L825.2 191.7 L826.1 189.7 L827.0 187.7 L827.9 185.6 L828.8 183.5 L829.7 181.2 L830.6 178.9 L831.5 176.7 L832.4 174.9 L833.3 173.6 L834.2 172.7 L835.0 172.3 L835.9 172.8 L836.8 174.0 L837.7 175.8 L838.6 177.9 L839.5 180.2 L840.4 183.0 L841.3 186.1 L842.2 189.6 L843.1 193.0 L844.0 196.3 L844.9 199.4 L845.8 202.3 L846.7 205.1 L847.6 207.9 L848.5 210.6 L849.4 213.4 L850.3 216.1 L851.2 218.9 L852.1 221.7 L853.0 224.3 L853.8 226.7 L854.7 229.0 L855.6 230.8 L856.5 231.8 L857.4 232.2 L858.3 232.1 L859.2 231.6 L860.1 230.4 L861.0 228.8 L861.9 227.1 L862.8 225.5 L863.7 223.8 L864.6 222.2 L865.5 221.0 L866.4 220.3 L867.3 220.4 L868.2 220.9 L869.1 221.7 L870.0 222.7 L870.9 223.7 L871.8 224.6 L872.6 225.6 L873.5 226.7 L874.4 227.8 L875.3 228.8 L876.2 229.5 L877.1 229.9 L878.0 230.0 L878.9 229.9 L879.8 229.8 L880.7 229.6 L881.6 229.3 L882.5 229.0 L883.4 228.6 L884.3 228.1 L885.2 227.6 L886.1 227.2 L887.0 226.9 L887.9 226.9 L888.8 227.0 L889.7 227.2 L890.6 227.5 L891.4 227.9 L892.3 228.2 L893.2 228.5 L894.1 228.8 L895.0 229.1 L895.9 229.4 L896.8 229.7 L897.7 230.1 L898.6 230.3 L899.5 230.6 L900.4 230.7 L901.3 230.8 L902.2 230.8 L903.1 230.7 L904.0 230.6 L904.9 230.5 L905.8 230.3 L906.7 230.2 L907.6 230.1 L908.5 230.1 L909.4 230.1 L910.2 230.2 L911.1 230.3 L912.0 230.4 L912.9 230.5 L913.8 230.6 L914.7 230.8 L915.6 231.0 L916.5 231.3 L917.4 231.7 L918.3 232.2 L919.2 232.6 L920.1 233.0 L921.0 233.2 L921.9 233.3 L922.8 233.2 L923.7 233.1 L924.6 232.8 L925.5 232.6 L926.4 232.3 L927.3 232.0 L928.2 231.8 L929.1 231.7 L929.9 231.6 L930.8 231.6 L931.7 231.7 L932.6 231.8 L933.5 231.9 L934.4 232.0 L935.3 232.2 L936.2 232.3 L937.1 232.5 L938.0 232.6 L938.9 232.8 L939.8 233.0 L940.7 233.2 L941.6 233.4 L942.5 233.5 L943.4 233.5 L944.3 233.4 L945.2 233.2 L946.1 232.9 L947.0 232.5 L947.9 232.1 L948.7 231.8 L949.6 231.7 L950.5 231.6 L951.4 231.7 L952.3 231.8 L953.2 231.9 L954.1 232.1 L955.0 232.3 L955.9 232.5 L956.8 232.7 L957.7 232.9 L958.6 233.0 L959.5 233.1 L960.4 233.1 L961.3 233.1 L962.2 233.0 L963.1 233.0 L964.0 232.9 L964.9 232.9 L965.8 232.8 L966.7 232.7 L967.5 232.7 L968.4 232.6 L969.3 232.5 L970.2 232.5 L971.1 232.4 L972.0 232.4 L972.9 232.4 L973.8 232.3 L974.7 232.4 L975.6 232.4 L976.5 232.4 L977.4 232.4 L978.3 232.4 L979.2 232.5 L980.1 232.5 L981.0 232.6 L981.9 232.6 L982.8 232.7 L983.7 232.7 L984.6 232.8 L985.5 232.8 L986.3 232.9 L987.2 232.9 L988.1 232.9 L989.0 233.0 L989.9 233.0 L990.8 233.0 L991.7 233.1 L992.6 233.1 L993.5 233.1 L994.4 233.1 L995.3 233.1 L996.2 233.1 L997.1 233.1 L998.0 233.1 L998.9 233.1 L999.8 233.1 L1000.7 233.1 L1001.6 233.1 L1002.5 233.1 L1003.4 233.0 L1004.3 233.0 L1005.2 233.0 L1006.0 233.0 L1006.9 233.0 L1007.8 233.0 L1008.7 233.0 L1009.6 233.0 L1010.5 233.0 L1011.4 233.0 L1012.3 233.0 L1013.2 232.9 L1014.1 232.9 L1015.0 232.9 L1015.9 232.9 L1016.8 232.9 L1017.7 232.9 L1018.6 232.9 L1019.5 232.9 L1020.4 232.9 L1021.3 232.9 L1022.2 232.9 L1023.1 232.9 L1024.0 232.9 L1024.8 232.9 L1025.7 232.8 L1026.6 232.8 L1027.5 232.8 L1028.4 232.8 L1029.3 232.8 L1030.2 232.8 L1031.1 232.8 L1032.0 232.8 L1032.9 232.8 L1033.8 232.8 L1034.7 232.8 L1035.6 232.8 L1036.5 232.8 L1037.4 232.8 L1038.3 232.8 L1039.2 232.8 L1040.1 232.8 L1041.0 232.8 L1041.9 232.8 L1042.8 232.8 L1043.6 232.8 L1044.5 232.8 L1045.4 232.8 L1046.3 232.8 L1047.2 232.8 L1048.1 232.8 L1049.0 232.8 L1049.9 232.8 L1050.8 232.8 L1051.7 232.8 L1052.6 232.8 L1053.5 232.8 L1054.4 232.9 L1055.3 232.9 L1056.2 232.9 L1057.1 232.9 L1058.0 232.9 L1058.9 232.9 L1059.8 232.9 L1060.7 232.9 L1061.6 232.9 L1062.4 232.9 L1063.3 232.9 L1064.2 232.9 L1065.1 232.9 L1066.0 232.9 L1066.9 232.9 L1067.8 232.9 L1068.7 232.9 L1069.6 232.9 L1070.5 232.9 L1071.4 232.9 L1072.3 232.9 L1073.2 232.9 L1074.1 232.9 L1075.0 232.9 L1075.9 232.9 L1076.8 232.9 L1077.7 232.9 L1078.6 232.9 L1079.5 232.9 L1080.4 232.9 L1081.2 232.9 L1082.1 232.9 L1083.0 232.9 L1083.9 232.9 L1084.8 232.9 L1085.7 232.9 L1086.6 232.9 L1087.5 232.9 L1088.4 232.9 L1089.3 232.9 L1090.2 232.9 L1091.1 232.9 L1092.0 232.9 L1092.9 232.9 L1093.8 232.9 L1094.7 232.9 L1095.6 232.9 L1096.5 232.9 L1097.4 232.9 L1098.3 232.9 L1099.2 232.9 L1100.1 232.9 L1100.9 232.9 L1101.8 232.9 L1102.7 232.9 L1103.6 233.0 L1104.5 233.0 L1105.4 233.0 L1106.3 233.0 L1107.2 233.0 L1108.1 233.0 L1109.0 233.0 L1109.9 233.0 L1110.8 233.0 L1111.7 233.0 L1112.6 233.0 L1113.5 233.0 L1114.4 233.0 L1115.3 233.0 L1116.2 233.0 L1117.1 233.0 L1118.0 233.0 L1118.9 233.0 L1119.7 233.0 L1120.6 233.0 L1121.5 233.0 L1122.4 233.1 L1123.3 233.1 L1124.2 233.1 L1125.1 233.1 L1126.0 233.1 L1126.9 233.1 L1127.8 233.1 L1128.7 233.1" fill="none" stroke="#fdb234" stroke-width="2.2"/>
<g fill="none" stroke="#ff3c00" stroke-width="2">
<circle cx="723.0" cy="231.3" r="3.2"/>
<circle cx="725.0" cy="230.9" r="3.2"/>
<circle cx="727.1" cy="231.1" r="3.2"/>
<circle cx="729.2" cy="231.5" r="3.2"/>
<circle cx="731.2" cy="231.9" r="3.2"/>
<circle cx="733.3" cy="232.1" r="3.2"/>
<circle cx="735.4" cy="231.8" r="3.2"/>
<circle cx="737.4" cy="231.3" r="3.2"/>
<circle cx="739.5" cy="230.8" r="3.2"/>
<circle cx="741.6" cy="230.4" r="3.2"/>
<circle cx="743.6" cy="230.4" r="3.2"/>
<circle cx="745.7" cy="230.8" r="3.2"/>
<circle cx="747.8" cy="231.4" r="3.2"/>
<circle cx="749.9" cy="231.9" r="3.2"/>
<circle cx="751.9" cy="232.1" r="3.2"/>
<circle cx="754.0" cy="231.9" r="3.2"/>
<circle cx="756.1" cy="231.6" r="3.2"/>
<circle cx="758.1" cy="231.2" r="3.2"/>
<circle cx="760.2" cy="231.1" r="3.2"/>
<circle cx="762.3" cy="232.1" r="3.2"/>
<circle cx="764.3" cy="233.7" r="3.2"/>
<circle cx="766.4" cy="234.9" r="3.2"/>
<circle cx="768.5" cy="234.4" r="3.2"/>
<circle cx="770.5" cy="231.7" r="3.2"/>
<circle cx="772.6" cy="228.4" r="3.2"/>
<circle cx="774.7" cy="225.3" r="3.2"/>
<circle cx="776.8" cy="222.0" r="3.2"/>
<circle cx="778.8" cy="219.6" r="3.2"/>
<circle cx="780.9" cy="218.3" r="3.2"/>
<circle cx="783.0" cy="217.2" r="3.2"/>
<circle cx="785.0" cy="216.6" r="3.2"/>
<circle cx="787.1" cy="216.5" r="3.2"/>
<circle cx="789.2" cy="216.5" r="3.2"/>
<circle cx="791.2" cy="216.5" r="3.2"/>
<circle cx="793.3" cy="216.3" r="3.2"/>
<circle cx="795.4" cy="215.2" r="3.2"/>
<circle cx="797.4" cy="213.8" r="3.2"/>
<circle cx="799.5" cy="212.1" r="3.2"/>
<circle cx="801.6" cy="210.3" r="3.2"/>
<circle cx="803.7" cy="208.5" r="3.2"/>
<circle cx="805.7" cy="206.7" r="3.2"/>
<circle cx="807.8" cy="204.9" r="3.2"/>
<circle cx="809.9" cy="203.2" r="3.2"/>
<circle cx="811.9" cy="201.6" r="3.2"/>
<circle cx="814.0" cy="200.0" r="3.2"/>
<circle cx="816.1" cy="197.9" r="3.2"/>
<circle cx="818.1" cy="195.5" r="3.2"/>
<circle cx="820.2" cy="192.5" r="3.2"/>
<circle cx="822.3" cy="188.5" r="3.2"/>
<circle cx="824.3" cy="183.1" r="3.2"/>
<circle cx="826.4" cy="177.6" r="3.2"/>
<circle cx="828.5" cy="172.6" r="3.2"/>
<circle cx="830.5" cy="168.9" r="3.2"/>
<circle cx="832.6" cy="166.4" r="3.2"/>
<circle cx="834.7" cy="165.4" r="3.2"/>
<circle cx="836.8" cy="165.5" r="3.2"/>
<circle cx="838.8" cy="167.5" r="3.2"/>
<circle cx="840.9" cy="170.8" r="3.2"/>
<circle cx="843.0" cy="176.3" r="3.2"/>
<circle cx="845.0" cy="183.3" r="3.2"/>
<circle cx="847.1" cy="191.4" r="3.2"/>
<circle cx="849.2" cy="199.8" r="3.2"/>
<circle cx="851.2" cy="208.5" r="3.2"/>
<circle cx="853.3" cy="217.0" r="3.2"/>
<circle cx="855.4" cy="224.8" r="3.2"/>
<circle cx="857.4" cy="228.4" r="3.2"/>
<circle cx="859.5" cy="226.2" r="3.2"/>
<circle cx="861.6" cy="219.5" r="3.2"/>
<circle cx="863.7" cy="213.2" r="3.2"/>
<circle cx="865.7" cy="209.7" r="3.2"/>
<circle cx="867.8" cy="206.7" r="3.2"/>
<circle cx="869.9" cy="202.5" r="3.2"/>
<circle cx="871.9" cy="196.9" r="3.2"/>
<circle cx="874.0" cy="188.4" r="3.2"/>
<circle cx="876.1" cy="177.7" r="3.2"/>
<circle cx="878.1" cy="168.5" r="3.2"/>
<circle cx="880.2" cy="155.6" r="3.2"/>
<circle cx="882.3" cy="145.3" r="3.2"/>
<circle cx="884.3" cy="136.8" r="3.2"/>
<circle cx="886.4" cy="126.6" r="3.2"/>
<circle cx="888.5" cy="117.5" r="3.2"/>
<circle cx="890.6" cy="111.7" r="3.2"/>
<circle cx="892.6" cy="108.7" r="3.2"/>
<circle cx="894.7" cy="107.4" r="3.2"/>
<circle cx="896.8" cy="107.3" r="3.2"/>
<circle cx="898.8" cy="108.6" r="3.2"/>
<circle cx="900.9" cy="110.6" r="3.2"/>
<circle cx="903.0" cy="114.3" r="3.2"/>
<circle cx="905.0" cy="121.9" r="3.2"/>
<circle cx="907.1" cy="136.5" r="3.2"/>
<circle cx="909.2" cy="153.1" r="3.2"/>
<circle cx="911.2" cy="166.5" r="3.2"/>
<circle cx="913.3" cy="175.8" r="3.2"/>
<circle cx="915.4" cy="185.2" r="3.2"/>
<circle cx="917.5" cy="195.7" r="3.2"/>
<circle cx="919.5" cy="203.1" r="3.2"/>
<circle cx="921.6" cy="207.5" r="3.2"/>
<circle cx="923.7" cy="210.4" r="3.2"/>
<circle cx="925.7" cy="211.9" r="3.2"/>
<circle cx="927.8" cy="212.5" r="3.2"/>
<circle cx="929.9" cy="213.3" r="3.2"/>
<circle cx="931.9" cy="215.7" r="3.2"/>
<circle cx="934.0" cy="218.3" r="3.2"/>
<circle cx="936.1" cy="220.3" r="3.2"/>
<circle cx="938.1" cy="221.9" r="3.2"/>
<circle cx="940.2" cy="223.0" r="3.2"/>
<circle cx="942.3" cy="222.8" r="3.2"/>
<circle cx="944.4" cy="220.2" r="3.2"/>
<circle cx="946.4" cy="217.0" r="3.2"/>
<circle cx="948.5" cy="213.7" r="3.2"/>
<circle cx="950.6" cy="210.1" r="3.2"/>
<circle cx="952.6" cy="206.2" r="3.2"/>
<circle cx="954.7" cy="202.2" r="3.2"/>
<circle cx="956.8" cy="199.0" r="3.2"/>
<circle cx="958.8" cy="196.5" r="3.2"/>
<circle cx="960.9" cy="194.3" r="3.2"/>
<circle cx="963.0" cy="192.7" r="3.2"/>
<circle cx="965.0" cy="191.6" r="3.2"/>
<circle cx="967.1" cy="190.6" r="3.2"/>
<circle cx="969.2" cy="189.8" r="3.2"/>
<circle cx="971.3" cy="189.3" r="3.2"/>
<circle cx="973.3" cy="189.1" r="3.2"/>
<circle cx="975.4" cy="189.7" r="3.2"/>
<circle cx="977.5" cy="190.9" r="3.2"/>
<circle cx="979.5" cy="192.5" r="3.2"/>
<circle cx="981.6" cy="194.2" r="3.2"/>
<circle cx="983.7" cy="196.4" r="3.2"/>
<circle cx="985.7" cy="199.4" r="3.2"/>
<circle cx="987.8" cy="202.7" r="3.2"/>
<circle cx="989.9" cy="205.7" r="3.2"/>
<circle cx="991.9" cy="208.3" r="3.2"/>
<circle cx="994.0" cy="210.9" r="3.2"/>
<circle cx="996.1" cy="213.5" r="3.2"/>
<circle cx="998.2" cy="215.5" r="3.2"/>
<circle cx="1000.2" cy="216.4" r="3.2"/>
<circle cx="1002.3" cy="216.5" r="3.2"/>
<circle cx="1004.4" cy="216.3" r="3.2"/>
<circle cx="1006.4" cy="216.0" r="3.2"/>
<circle cx="1008.5" cy="215.6" r="3.2"/>
<circle cx="1010.6" cy="215.1" r="3.2"/>
<circle cx="1012.6" cy="214.5" r="3.2"/>
<circle cx="1014.7" cy="213.0" r="3.2"/>
<circle cx="1016.8" cy="210.7" r="3.2"/>
<circle cx="1018.8" cy="207.8" r="3.2"/>
<circle cx="1020.9" cy="204.7" r="3.2"/>
<circle cx="1023.0" cy="201.8" r="3.2"/>
<circle cx="1025.1" cy="198.5" r="3.2"/>
<circle cx="1027.1" cy="195.0" r="3.2"/>
<circle cx="1029.2" cy="192.0" r="3.2"/>
<circle cx="1031.3" cy="190.1" r="3.2"/>
<circle cx="1033.3" cy="188.7" r="3.2"/>
<circle cx="1035.4" cy="187.6" r="3.2"/>
<circle cx="1037.5" cy="187.1" r="3.2"/>
<circle cx="1039.5" cy="187.5" r="3.2"/>
<circle cx="1041.6" cy="188.9" r="3.2"/>
<circle cx="1043.7" cy="190.8" r="3.2"/>
<circle cx="1045.7" cy="192.9" r="3.2"/>
<circle cx="1047.8" cy="195.1" r="3.2"/>
<circle cx="1049.9" cy="198.0" r="3.2"/>
<circle cx="1052.0" cy="201.3" r="3.2"/>
<circle cx="1054.0" cy="204.6" r="3.2"/>
<circle cx="1056.1" cy="207.7" r="3.2"/>
<circle cx="1058.2" cy="211.1" r="3.2"/>
<circle cx="1060.2" cy="214.8" r="3.2"/>
<circle cx="1062.3" cy="217.7" r="3.2"/>
<circle cx="1064.4" cy="219.2" r="3.2"/>
<circle cx="1066.4" cy="218.7" r="3.2"/>
<circle cx="1068.5" cy="217.0" r="3.2"/>
<circle cx="1070.6" cy="214.6" r="3.2"/>
<circle cx="1072.6" cy="212.3" r="3.2"/>
<circle cx="1074.7" cy="210.5" r="3.2"/>
<circle cx="1076.8" cy="208.7" r="3.2"/>
<circle cx="1078.9" cy="206.9" r="3.2"/>
<circle cx="1080.9" cy="205.4" r="3.2"/>
<circle cx="1083.0" cy="204.2" r="3.2"/>
<circle cx="1085.1" cy="203.7" r="3.2"/>
<circle cx="1087.1" cy="203.5" r="3.2"/>
<circle cx="1089.2" cy="203.4" r="3.2"/>
<circle cx="1091.3" cy="203.8" r="3.2"/>
<circle cx="1093.3" cy="204.8" r="3.2"/>
<circle cx="1095.4" cy="206.3" r="3.2"/>
<circle cx="1097.5" cy="208.0" r="3.2"/>
<circle cx="1099.5" cy="209.6" r="3.2"/>
<circle cx="1101.6" cy="211.2" r="3.2"/>
<circle cx="1103.7" cy="212.9" r="3.2"/>
<circle cx="1105.8" cy="214.7" r="3.2"/>
<circle cx="1107.8" cy="216.4" r="3.2"/>
<circle cx="1109.9" cy="217.9" r="3.2"/>
<circle cx="1112.0" cy="219.1" r="3.2"/>
<circle cx="1114.0" cy="220.3" r="3.2"/>
<circle cx="1116.1" cy="221.4" r="3.2"/>
<circle cx="1118.2" cy="222.4" r="3.2"/>
<circle cx="1120.2" cy="223.1" r="3.2"/>
<circle cx="1122.3" cy="223.8" r="3.2"/>
<circle cx="1124.4" cy="224.3" r="3.2"/>
<circle cx="1126.4" cy="224.8" r="3.2"/>
<circle cx="1128.5" cy="225.0" r="3.2"/>
</g>
<path d="M723.0 230.6 L723.6 230.7 L724.3 230.9 L725.0 231.0 L725.7 231.1 L726.3 231.2 L727.0 231.3 L727.7 231.4 L728.4 231.5 L729.0 231.5 L729.7 231.6 L730.4 231.6 L731.1 231.6 L731.8 231.5 L732.4 231.5 L733.1 231.4 L733.8 231.3 L734.5 231.1 L735.1 230.9 L735.8 230.8 L736.5 230.6 L737.2 230.4 L737.9 230.3 L738.5 230.1 L739.2 230.0 L739.9 229.9 L740.6 229.9 L741.2 229.9 L741.9 229.9 L742.6 229.9 L743.3 230.0 L744.0 230.1 L744.6 230.2 L745.3 230.3 L746.0 230.4 L746.7 230.5 L747.3 230.7 L748.0 230.8 L748.7 230.9 L749.4 231.0 L750.0 231.0 L750.7 231.1 L751.4 231.1 L752.1 231.0 L752.8 230.9 L753.4 230.8 L754.1 230.6 L754.8 230.5 L755.5 230.3 L756.1 230.1 L756.8 229.9 L757.5 229.7 L758.2 229.5 L758.9 229.4 L759.5 229.2 L760.2 229.0 L760.9 228.8 L761.6 228.6 L762.2 228.5 L762.9 228.3 L763.6 228.2 L764.3 228.1 L764.9 228.1 L765.6 228.2 L766.3 228.3 L767.0 228.5 L767.7 228.8 L768.3 229.0 L769.0 229.3 L769.7 229.6 L770.4 229.9 L771.0 230.1 L771.7 230.2 L772.4 230.2 L773.1 230.2 L773.8 230.0 L774.4 229.7 L775.1 229.3 L775.8 228.9 L776.5 228.5 L777.1 228.0 L777.8 227.6 L778.5 227.3 L779.2 227.0 L779.9 226.7 L780.5 226.5 L781.2 226.2 L781.9 226.0 L782.6 225.8 L783.2 225.6 L783.9 225.4 L784.6 225.2 L785.3 225.0 L785.9 224.9 L786.6 224.7 L787.3 224.6 L788.0 224.5 L788.7 224.4 L789.3 224.3 L790.0 224.2 L790.7 224.1 L791.4 224.0 L792.0 223.8 L792.7 223.6 L793.4 223.3 L794.1 222.9 L794.8 222.5 L795.4 221.9 L796.1 221.3 L796.8 220.6 L797.5 219.8 L798.1 218.9 L798.8 217.8 L799.5 216.6 L800.2 215.5 L800.9 214.4 L801.5 213.5 L802.2 212.7 L802.9 212.1 L803.6 211.5 L804.2 211.0 L804.9 210.6 L805.6 210.1 L806.3 209.7 L806.9 209.3 L807.6 208.8 L808.3 208.4 L809.0 207.9 L809.7 207.5 L810.3 207.1 L811.0 206.7 L811.7 206.2 L812.4 205.8 L813.0 205.2 L813.7 204.7 L814.4 204.0 L815.1 203.3 L815.8 202.5 L816.4 201.7 L817.1 200.7 L817.8 199.6 L818.5 198.3 L819.1 196.7 L819.8 195.0 L820.5 193.1 L821.2 191.2 L821.8 189.4 L822.5 187.6 L823.2 186.0 L823.9 184.3 L824.6 182.7 L825.2 181.1 L825.9 179.4 L826.6 177.7 L827.3 175.9 L827.9 174.1 L828.6 172.3 L829.3 170.6 L830.0 169.1 L830.7 167.9 L831.3 166.8 L832.0 165.9 L832.7 165.3 L833.4 164.8 L834.0 164.7 L834.7 164.9 L835.4 165.3 L836.1 165.9 L836.8 166.8 L837.4 167.7 L838.1 168.9 L838.8 170.3 L839.5 172.1 L840.1 174.2 L840.8 176.5 L841.5 178.8 L842.2 181.2 L842.8 183.5 L843.5 185.9 L844.2 188.2 L844.9 190.6 L845.6 193.2 L846.2 195.9 L846.9 198.8 L847.6 201.9 L848.3 205.3 L848.9 208.7 L849.6 212.2 L850.3 215.8 L851.0 219.4 L851.7 222.5 L852.3 224.5 L853.0 225.4 L853.7 225.2 L854.4 224.2 L855.0 222.4 L855.7 219.9 L856.4 217.2 L857.1 214.7 L857.7 212.7 L858.4 211.1 L859.1 209.9 L859.8 208.8 L860.5 207.9 L861.1 207.1 L861.8 206.5 L862.5 206.0 L863.2 205.6 L863.8 205.3 L864.5 205.1 L865.2 204.8 L865.9 204.6 L866.6 204.4 L867.2 204.2 L867.9 203.9 L868.6 203.7 L869.3 203.5 L869.9 203.2 L870.6 202.7 L871.3 201.9 L872.0 200.9 L872.7 199.6 L873.3 198.0 L874.0 196.1 L874.7 193.8 L875.4 191.1 L876.0 188.1 L876.7 184.7 L877.4 181.2 L878.1 177.7 L878.7 174.0 L879.4 170.1 L880.1 166.0 L880.8 161.9 L881.5 157.9 L882.1 154.0 L882.8 150.3 L883.5 146.8 L884.2 143.5 L884.8 140.3 L885.5 137.2 L886.2 134.2 L886.9 131.4 L887.6 128.8 L888.2 126.5 L888.9 124.4 L889.6 122.7 L890.3 121.2 L890.9 119.7 L891.6 118.3 L892.3 117.0 L893.0 115.9 L893.7 114.9 L894.3 114.1 L895.0 113.5 L895.7 113.2 L896.4 113.1 L897.0 113.4 L897.7 114.1 L898.4 115.0 L899.1 116.1 L899.7 117.4 L900.4 118.8 L901.1 120.4 L901.8 121.9 L902.5 123.6 L903.1 125.3 L903.8 127.2 L904.5 129.4 L905.2 131.6 L905.8 134.1 L906.5 136.6 L907.2 139.2 L907.9 141.9 L908.6 144.7 L909.2 147.7 L909.9 150.9 L910.6 154.2 L911.3 157.6 L911.9 161.1 L912.6 164.5 L913.3 167.7 L914.0 170.9 L914.6 174.0 L915.3 176.9 L916.0 179.9 L916.7 182.8 L917.4 185.6 L918.0 188.5 L918.7 191.4 L919.4 194.2 L920.1 197.0 L920.7 199.8 L921.4 202.6 L922.1 205.3 L922.8 208.0 L923.5 210.7 L924.1 213.3 L924.8 215.9 L925.5 218.3 L926.2 220.6 L926.8 222.7 L927.5 224.7 L928.2 226.6 L928.9 228.1 L929.6 229.4 L930.2 230.3 L930.9 230.9 L931.6 231.3 L932.3 231.3 L932.9 231.1 L933.6 230.6 L934.3 230.0 L935.0 229.3 L935.6 228.7 L936.3 228.1 L937.0 227.8 L937.7 227.5 L938.4 227.4 L939.0 227.3 L939.7 227.2 L940.4 227.1 L941.1 227.1 L941.7 227.0 L942.4 227.0 L943.1 226.9 L943.8 226.9 L944.5 226.8 L945.1 226.8 L945.8 226.8 L946.5 226.9 L947.2 227.0 L947.8 227.1 L948.5 227.3 L949.2 227.6 L949.9 227.9 L950.6 228.2 L951.2 228.6 L951.9 228.9 L952.6 229.3 L953.3 229.6 L953.9 229.9 L954.6 230.1 L955.3 230.3 L956.0 230.5 L956.6 230.5 L957.3 230.5 L958.0 230.5 L958.7 230.4 L959.4 230.3 L960.0 230.2 L960.7 230.1 L961.4 229.9 L962.1 229.8 L962.7 229.6 L963.4 229.5 L964.1 229.4 L964.8 229.3 L965.5 229.2 L966.1 229.1 L966.8 229.1 L967.5 229.2 L968.2 229.3 L968.8 229.5 L969.5 229.8 L970.2 230.1 L970.9 230.4 L971.5 230.8 L972.2 231.2 L972.9 231.6 L973.6 232.0 L974.3 232.3 L974.9 232.6 L975.6 232.8 L976.3 233.0 L977.0 233.0 L977.6 233.0 L978.3 232.9 L979.0 232.8 L979.7 232.6 L980.4 232.3 L981.0 232.0 L981.7 231.8 L982.4 231.5 L983.1 231.2 L983.7 230.9 L984.4 230.7 L985.1 230.4 L985.8 230.3 L986.5 230.2 L987.1 230.1 L987.8 230.1 L988.5 230.2 L989.2 230.3 L989.8 230.4 L990.5 230.6 L991.2 230.8 L991.9 231.0 L992.5 231.2 L993.2 231.4 L993.9 231.6 L994.6 231.7 L995.3 231.9 L995.9 232.0 L996.6 232.0 L997.3 232.1 L998.0 232.1 L998.6 232.1 L999.3 232.0 L1000.0 232.0 L1000.7 231.9 L1001.4 231.9 L1002.0 231.8 L1002.7 231.7 L1003.4 231.7 L1004.1 231.6 L1004.7 231.5 L1005.4 231.4 L1006.1 231.4 L1006.8 231.3 L1007.4 231.2 L1008.1 231.2 L1008.8 231.1 L1009.5 231.1 L1010.2 231.1 L1010.8 231.1 L1011.5 231.1 L1012.2 231.1 L1012.9 231.2 L1013.5 231.2 L1014.2 231.3 L1014.9 231.3 L1015.6 231.4 L1016.3 231.5 L1016.9 231.5 L1017.6 231.6 L1018.3 231.7 L1019.0 231.8 L1019.6 231.9 L1020.3 232.0 L1021.0 232.1 L1021.7 232.2 L1022.4 232.2 L1023.0 232.3 L1023.7 232.4 L1024.4 232.4 L1025.1 232.5 L1025.7 232.5 L1026.4 232.6 L1027.1 232.6 L1027.8 232.6 L1028.4 232.6 L1029.1 232.6 L1029.8 232.6 L1030.5 232.6 L1031.2 232.6 L1031.8 232.6 L1032.5 232.6 L1033.2 232.6 L1033.9 232.6 L1034.5 232.6 L1035.2 232.6 L1035.9 232.6 L1036.6 232.5 L1037.3 232.5 L1037.9 232.5 L1038.6 232.5 L1039.3 232.5 L1040.0 232.5 L1040.6 232.5 L1041.3 232.5 L1042.0 232.5 L1042.7 232.5 L1043.4 232.5 L1044.0 232.5 L1044.7 232.5 L1045.4 232.5 L1046.1 232.5 L1046.7 232.4 L1047.4 232.4 L1048.1 232.4 L1048.8 232.4 L1049.4 232.4 L1050.1 232.4 L1050.8 232.4 L1051.5 232.4 L1052.2 232.4 L1052.8 232.4 L1053.5 232.4 L1054.2 232.4 L1054.9 232.4 L1055.5 232.4 L1056.2 232.4 L1056.9 232.4 L1057.6 232.4 L1058.3 232.3 L1058.9 232.3 L1059.6 232.3 L1060.3 232.3 L1061.0 232.3 L1061.6 232.3 L1062.3 232.3 L1063.0 232.3 L1063.7 232.3 L1064.3 232.3 L1065.0 232.3 L1065.7 232.3 L1066.4 232.3 L1067.1 232.3 L1067.7 232.3 L1068.4 232.3 L1069.1 232.3 L1069.8 232.3 L1070.4 232.3 L1071.1 232.3 L1071.8 232.3 L1072.5 232.3 L1073.2 232.3 L1073.8 232.3 L1074.5 232.3 L1075.2 232.3 L1075.9 232.3 L1076.5 232.3 L1077.2 232.3 L1077.9 232.3 L1078.6 232.3 L1079.3 232.3 L1079.9 232.3 L1080.6 232.3 L1081.3 232.3 L1082.0 232.3 L1082.6 232.3 L1083.3 232.3 L1084.0 232.3 L1084.7 232.3 L1085.3 232.3 L1086.0 232.3 L1086.7 232.3 L1087.4 232.3 L1088.1 232.3 L1088.7 232.3 L1089.4 232.3 L1090.1 232.3 L1090.8 232.3 L1091.4 232.3 L1092.1 232.3 L1092.8 232.3 L1093.5 232.3 L1094.2 232.3 L1094.8 232.3 L1095.5 232.3 L1096.2 232.3 L1096.9 232.3 L1097.5 232.3 L1098.2 232.3 L1098.9 232.3 L1099.6 232.3 L1100.3 232.3 L1100.9 232.3 L1101.6 232.3 L1102.3 232.3 L1103.0 232.3 L1103.6 232.3 L1104.3 232.3 L1105.0 232.3 L1105.7 232.3 L1106.3 232.3 L1107.0 232.3 L1107.7 232.3 L1108.4 232.3 L1109.1 232.3 L1109.7 232.3 L1110.4 232.3 L1111.1 232.3 L1111.8 232.3 L1112.4 232.3 L1113.1 232.3 L1113.8 232.3 L1114.5 232.3 L1115.2 232.3 L1115.8 232.3 L1116.5 232.3 L1117.2 232.3 L1117.9 232.3 L1118.5 232.3 L1119.2 232.3 L1119.9 232.3 L1120.6 232.3 L1121.2 232.3 L1121.9 232.3 L1122.6 232.3 L1123.3 232.3 L1124.0 232.3 L1124.6 232.3 L1125.3 232.3 L1126.0 232.3 L1126.7 232.3 L1127.3 232.3 L1128.0 232.3 L1128.7 232.3" fill="none" stroke="#a6ee00" stroke-width="3" stroke-linejoin="round"/>
<g stroke="#000" stroke-width="1.8" fill="none">
<rect x="718" y="26" width="416.8" height="214.2"/>
<path d="M706 233.6 H718"/>
<path d="M706 183.3 H718"/>
<path d="M706 133.0 H718"/>
<path d="M706 82.7 H718"/>
<path d="M706 32.4 H718"/>
<path d="M724.3 240 V252"/>
<path d="M791.7 240 V252"/>
<path d="M859.1 240 V252"/>
<path d="M926.5 240 V252"/>
<path d="M993.9 240 V252"/>
<path d="M1061.3 240 V252"/>
<path d="M1128.7 240 V252"/>
</g>
<g font-family="'Liberation Sans', Arial, Helvetica, sans-serif" font-weight="bold" font-size="26" fill="#000">
<text x="700.5" y="243.4" text-anchor="end">0</text>
<text x="700.5" y="193.1" text-anchor="end">2</text>
<text x="700.5" y="142.8" text-anchor="end">4</text>
<text x="700.5" y="92.5" text-anchor="end">6</text>
<text x="700.5" y="42.2" text-anchor="end">8</text>
<text x="724.3" y="284.3" text-anchor="middle">0</text>
<text x="791.7" y="284.3" text-anchor="middle">1</text>
<text x="859.1" y="284.3" text-anchor="middle">2</text>
<text x="926.5" y="284.3" text-anchor="middle">3</text>
<text x="993.9" y="284.3" text-anchor="middle">4</text>
<text x="1061.3" y="284.3" text-anchor="middle">5</text>
<text x="1128.7" y="284.3" text-anchor="middle">6</text>
</g>
<text x="793.8" y="319.8" font-family="'Liberation Sans', Arial, Helvetica, sans-serif" font-weight="bold" font-size="28.8">Radial distance</text>
<text x="1011" y="319.8" font-family="'Liberation Sans', Arial, Helvetica, sans-serif" font-weight="bold" font-size="28">(</text>
<text x="1020.5" y="320.3" font-family="'Liberation Serif', 'Times New Roman', serif" font-size="28">Å</text>
<text x="1049.3" y="319.8" font-family="'Liberation Sans', Arial, Helvetica, sans-serif" font-weight="bold" font-size="28">)</text>
<text transform="translate(647.5 251.6) rotate(-90)" font-family="'Liberation Sans', Arial, Helvetica, sans-serif" font-weight="bold" font-size="25">|</text>
<text transform="translate(645.8 224.2) rotate(-90)" font-family="'Liberation Sans', Arial, Helvetica, sans-serif" font-weight="bold" font-size="28.6">χ(R)|</text>
<text transform="translate(645.5 139.5) rotate(-90)" font-family="'Liberation Serif', 'Times New Roman', serif" font-weight="bold" font-size="30">(</text>
<text transform="translate(645 130.8) rotate(-90)" font-family="'Liberation Serif', 'Times New Roman', serif" font-weight="normal" font-size="26">Å</text>
<text transform="translate(626 101) rotate(-90)" font-family="'Liberation Sans', Arial, Helvetica, sans-serif" font-weight="bold" font-size="19.5">-4</text>
<text transform="translate(645.5 83.5) rotate(-90)" font-family="'Liberation Serif', 'Times New Roman', serif" font-weight="bold" font-size="30">)</text>
<g font-family="'Liberation Sans', Arial, Helvetica, sans-serif" font-weight="bold" font-style="italic" font-size="26" fill="#000">
<text x="730" y="57.4">EXAFS</text><text x="730.5" y="88.2">Cr K-edge</text></g>
<circle cx="1014.5" cy="52.6" r="6.8" fill="#fff" stroke="#ff3c00" stroke-width="1.8"/><circle cx="1014.5" cy="52.6" r="1.1" fill="#ff3c00"/>
<rect x="1006.2" y="71.6" width="17.2" height="10.4" fill="#8080f0" stroke="#1a4cff" stroke-width="2.6"/>
<rect x="1006.2" y="95.4" width="17.2" height="10.4" fill="#ffd890" stroke="#ffb43a" stroke-width="2.6"/>
<line x1="995" y1="124.3" x2="1034" y2="124.3" stroke="#a0ec00" stroke-width="3.2"/>
<g font-family="'Liberation Sans', Arial, Helvetica, sans-serif" font-size="21.5" fill="#000">
<text x="1042.6" y="59">N2sccm</text><text x="1042.6" y="82.4">Cr-Cr</text><text x="1042.6" y="106">Cr-N</text><text x="1042.6" y="130.8">Fitting</text></g>
<g stroke="#000" stroke-width="1.8" fill="none">
<rect x="718" y="340.6" width="413.8" height="358.7"/>
<path d="M703.5 685.3 H718"/>
<path d="M703.5 602.7 H718"/>
<path d="M703.5 520.1 H718"/>
<path d="M703.5 437.5 H718"/>
<path d="M703.5 354.9 H718"/>
<path d="M732.4 699.3 V713.5"/>
<path d="M796.5 699.3 V713.5"/>
<path d="M860.7 699.3 V713.5"/>
<path d="M924.9 699.3 V713.5"/>
<path d="M989.0 699.3 V713.5"/>
<path d="M1053.2 699.3 V713.5"/>
<path d="M1117.3 699.3 V713.5"/>
</g>
<g font-family="'Liberation Sans', Arial, Helvetica, sans-serif" font-weight="bold" font-size="30.5" fill="#000">
<text x="695.8" y="696.1" text-anchor="end">6</text>
<text x="695.8" y="613.5" text-anchor="end">8</text>
<text x="695.8" y="530.9" text-anchor="end">10</text>
<text x="695.8" y="448.3" text-anchor="end">12</text>
<text x="695.8" y="365.7" text-anchor="end">14</text>
<text x="732.4" y="750" text-anchor="middle">1</text>
<text x="796.5" y="750" text-anchor="middle">2</text>
<text x="860.7" y="750" text-anchor="middle">3</text>
<text x="924.9" y="750" text-anchor="middle">4</text>
<text x="989.0" y="750" text-anchor="middle">5</text>
<text x="1053.2" y="750" text-anchor="middle">6</text>
<text x="1117.3" y="750" text-anchor="middle">7</text>
</g>
<text x="855" y="789.7" font-family="'Liberation Sans', Arial, Helvetica, sans-serif" font-weight="bold" font-size="31.5">f<tspan font-size="20.5" dy="7">N2</tspan><tspan dy="-7">(sccm)</tspan></text>
<text transform="translate(637.2 528.1) rotate(-90)" text-anchor="middle" font-family="'Liberation Sans', Arial, Helvetica, sans-serif" font-weight="bold" font-size="30.8">Coordination number</text>
<text x="1012.6" y="386.9" font-family="'Liberation Sans', Arial, Helvetica, sans-serif" font-weight="bold" font-size="41" fill="#8080ff">Cr-Cr</text>
<polyline points="796.5,470.8 924.9,543.4 1053,569.2" fill="none" stroke="#6600cc" stroke-width="2" stroke-dasharray="7 5"/>
<g stroke="#6600cc" stroke-width="2" fill="none">
<path d="M796.5 410.9 V531 M790.7 410.9 H802.3 M790.7 531 H802.3"/>
<path d="M924.9 491.8 V595 M919.1 491.8 H930.6999999999999 M919.1 595 H930.6999999999999"/>
<path d="M1053 518.4 V620 M1047.2 518.4 H1058.8 M1047.2 620 H1058.8"/>
</g>
<circle cx="796.5" cy="470.8" r="12" fill="#6600cc"/>
<circle cx="924.9" cy="543.4" r="12" fill="#6600cc"/>
<circle cx="1053" cy="569.2" r="12" fill="#6600cc"/>
<text x="723.5" y="681.3" font-family="'Liberation Sans', Arial, Helvetica, sans-serif" font-weight="bold" font-size="34.5" fill="#ff9a0a"><tspan font-style="italic">n</tspan>-type</text>
<text x="1129.5" y="681.3" text-anchor="end" font-family="'Liberation Sans', Arial, Helvetica, sans-serif" font-weight="bold" font-size="35" fill="#0428c8"><tspan font-style="italic">p</tspan>-type</text>
<path d="M837.6 672.7 L869.3 656.9 L869.3 667.6 L980.7 667.6 L980.7 656.9 L1012.4 672.7 L980.7 688 L980.7 677.8 L869.3 677.8 L869.3 688 Z" fill="url(#dblg)"/>
<path d="M881.5 189.7 H910.7 V379.5 H925 L896.5 428 L867.6 379.5 H881.5 Z" fill="url(#bigarrow)"/>
</svg></body></html>
